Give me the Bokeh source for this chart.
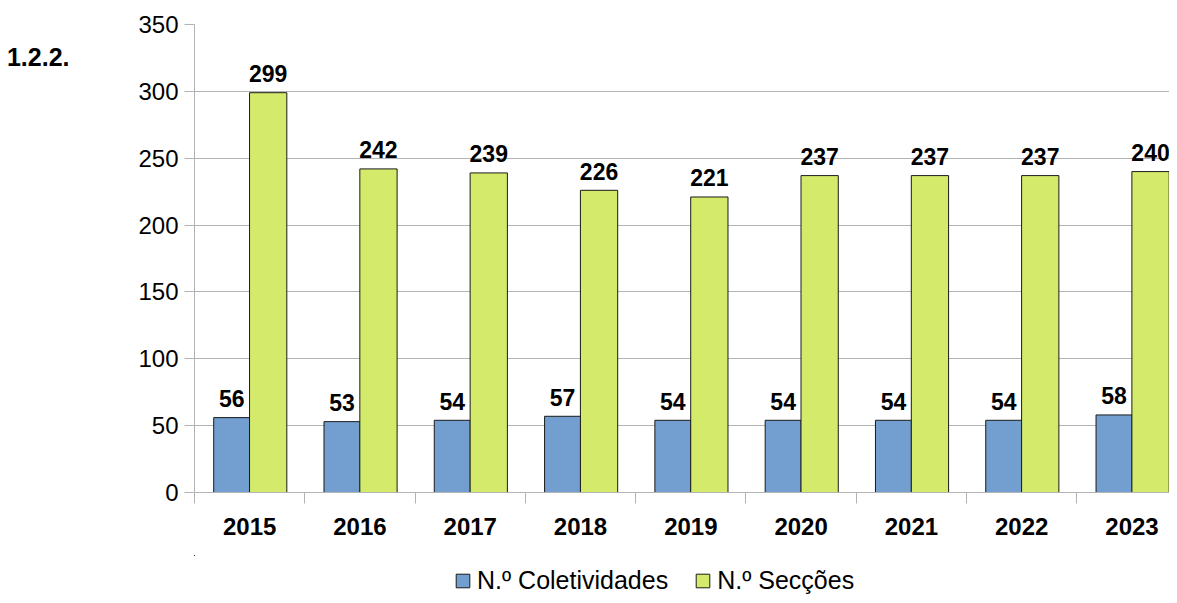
from bokeh.plotting import figure
from bokeh.layouts import column
from bokeh.models import (Range1d, FixedTicker, ColumnDataSource, Legend,
                          LegendItem, LinearAxis)
from bokeh.core.properties import value
from bokeh.embed import file_html
from bokeh.resources import INLINE

years = ["2015", "2016", "2017", "2018", "2019", "2020", "2021", "2022", "2023"]
coletividades = [56, 53, 54, 57, 54, 54, 54, 54, 58]
seccoes = [299, 242, 239, 226, 221, 237, 237, 237, 240]
y_ticks = [0, 50, 100, 150, 200, 250, 300, 350]
series_names = ["N.º Coletividades", "N.º Secções"]
title_text = "1.2.2."

FONT = "Liberation Sans"
BLUE = "#729fcf"
GREEN = "#d4ea6b"
OUTLINE = "#1a1a1a"
GRID = "#b3b3b3"

n = len(years)
idx = list(range(n))
centers = [i + 0.5 for i in idx]
x_blue = [i + 0.337 for i in idx]
x_green = [i + 0.668 for i in idx]

src = ColumnDataSource(dict(
    xb=x_blue, xg=x_green, b=coletividades, g=seccoes,
    bl=[str(v) for v in coletividades], gl=[str(v) for v in seccoes],
))

W = 1169
p = figure(width=W, height=555, output_backend="svg", toolbar_location=None,
           x_range=Range1d(0, 8.84), y_range=Range1d(0, 350),
           min_border_left=194, min_border_right=0, min_border_top=24,
           min_border_bottom=63)
p.outline_line_color = None
p.background_fill_color = "white"
p.border_fill_color = "white"

rb = p.vbar(x="xb", top="b", bottom=0, width=0.326, source=src,
            fill_color=BLUE, line_color=OUTLINE, line_width=1)
rg = p.vbar(x="xg", top="g", bottom=0, width=0.338, source=src,
            fill_color=GREEN, line_color=OUTLINE, line_width=1)

for col, xcol in (("bl", "xb"), ("gl", "xg")):
    p.text(x=xcol, y=col[0], text=col, source=src, text_align="center",
           text_baseline="alphabetic", y_offset=-19,
           text_font=value(FONT), text_font_style="bold",
           text_font_size="23px", text_color="black")

# x axis
xa = p.xaxis[0]
xa.ticker = FixedTicker(ticks=centers, minor_ticks=list(range(n + 1)))
xa.major_label_overrides = {c: y for c, y in zip(centers, years)}
xa.major_tick_out = 0
xa.major_tick_in = 0
xa.minor_tick_out = 11
xa.minor_tick_in = 0
xa.minor_tick_line_color = GRID
xa.axis_line_color = GRID
xa.major_label_text_font = FONT
xa.major_label_text_font_style = "bold"
xa.major_label_text_font_size = "24px"
xa.major_label_text_color = "black"
xa.major_label_standoff = 14

# y axis
ya = p.yaxis[0]
ya.ticker = FixedTicker(ticks=y_ticks)
ya.major_tick_out = 10
ya.major_tick_in = 0
ya.minor_tick_line_color = None
ya.major_tick_line_color = GRID
ya.axis_line_color = GRID
ya.major_label_text_font = FONT
ya.major_label_text_font_size = "24px"
ya.major_label_text_color = "black"
ya.major_label_standoff = 6

p.xgrid.grid_line_color = None
p.ygrid.grid_line_color = GRID
p.ygrid.ticker = FixedTicker(ticks=y_ticks)

# chart number "1.2.2." drawn as an outer left axis label
title_pos = 326
ax2 = LinearAxis(ticker=FixedTicker(ticks=[title_pos]),
                 major_label_overrides={title_pos: title_text},
                 axis_line_color=None, major_tick_line_color=None,
                 minor_tick_line_color=None, major_tick_out=0, major_tick_in=0,
                 major_label_text_font=FONT, major_label_text_font_style="bold",
                 major_label_text_font_size="25px", major_label_text_color="black",
                 major_label_standoff=66)
p.add_layout(ax2, "left")

# legend in a small companion figure below the chart; its bar renderers use
# the same data but lie entirely outside that figure's visible ranges
lf = figure(width=W, height=40, output_backend="svg", toolbar_location=None,
            x_range=Range1d(100, 108.84), y_range=Range1d(-2, -1),
            min_border=0, x_axis_type=None, y_axis_type=None)
lf.outline_line_color = None
lf.xgrid.visible = False
lf.ygrid.visible = False
lb = lf.vbar(x="xb", top="b", bottom=0, width=0.326, source=src,
             fill_color=BLUE, line_color=OUTLINE, line_width=1)
lg = lf.vbar(x="xg", top="g", bottom=0, width=0.338, source=src,
             fill_color=GREEN, line_color=OUTLINE, line_width=1)
legend = Legend(items=[LegendItem(label=series_names[0], renderers=[lb]),
                       LegendItem(label=series_names[1], renderers=[lg])],
                orientation="horizontal", location=(260, 0),
                glyph_width=17, glyph_height=17, label_standoff=6, spacing=26,
                label_text_font=FONT, label_text_font_size="25px",
                label_text_color="black", border_line_color=None,
                background_fill_alpha=0, padding=0, margin=0)
lf.add_layout(legend, "center")

layout = column(p, lf, spacing=0)
open("out.html", "w").write(file_html(layout, INLINE))
